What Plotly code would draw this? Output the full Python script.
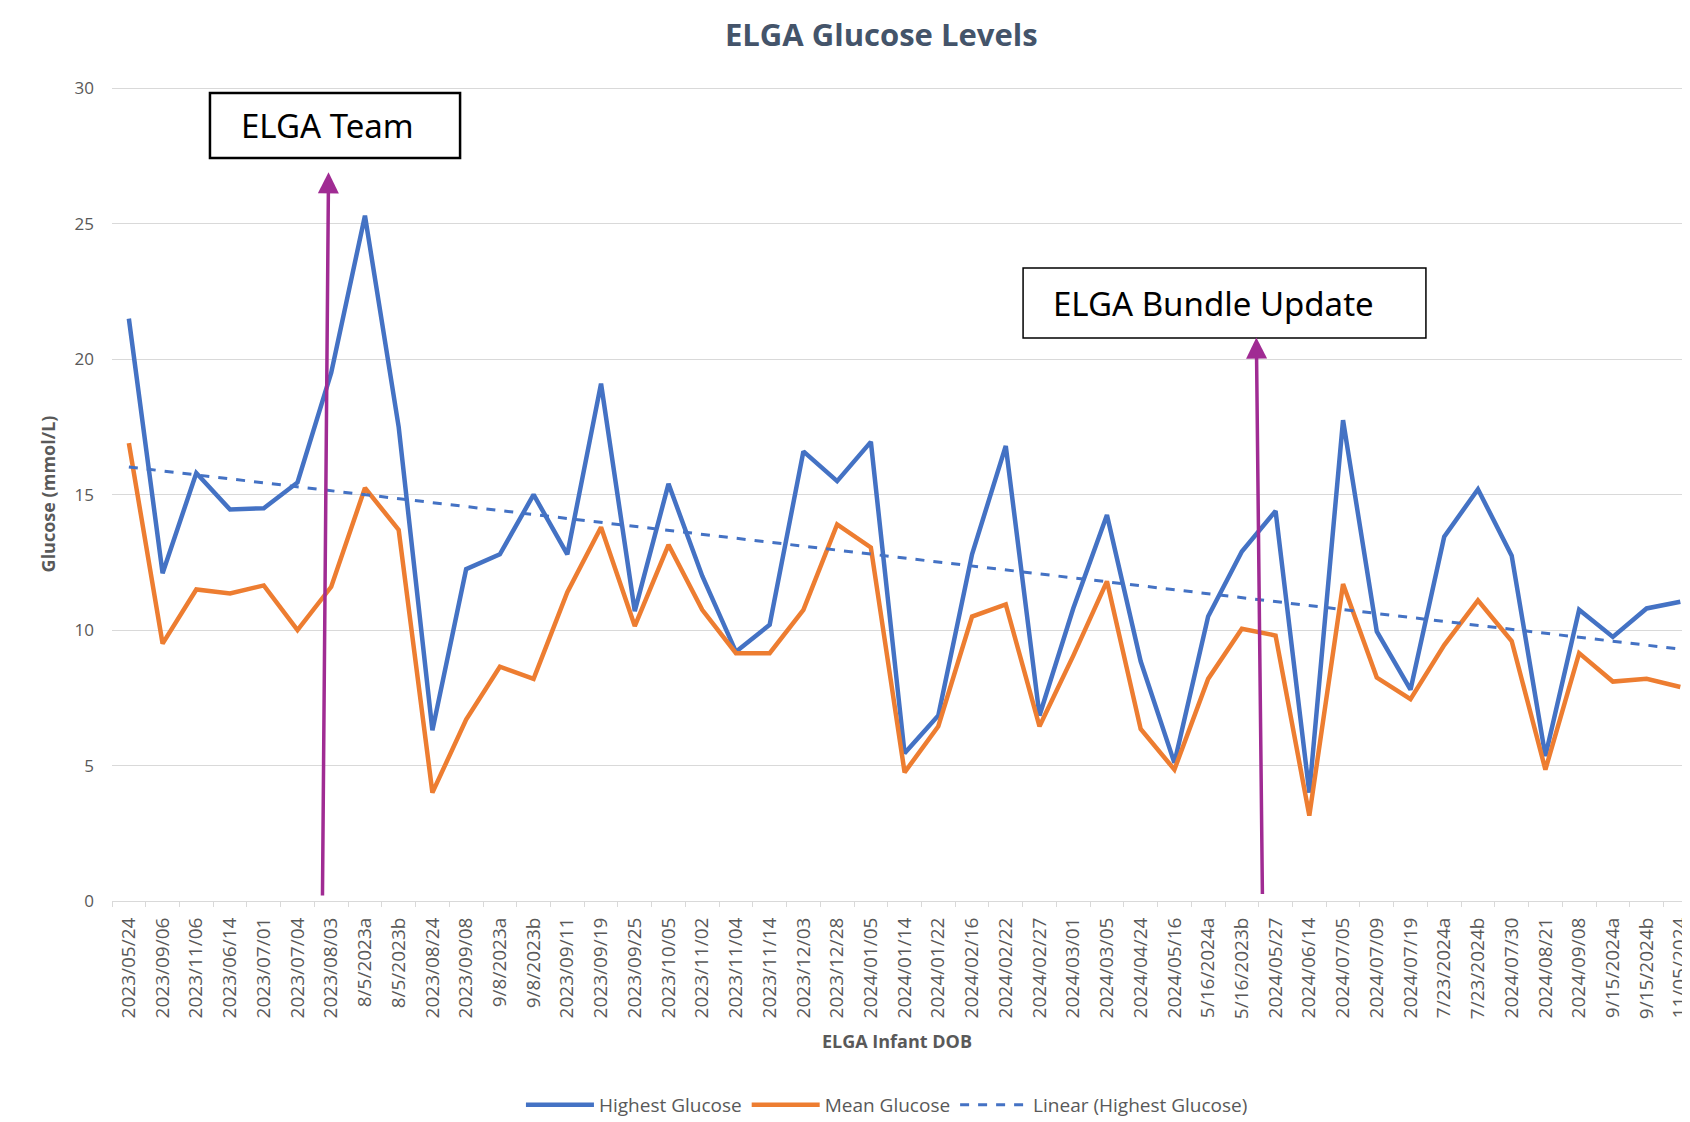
import numpy as np
import plotly.graph_objects as go

# ---------------- data ----------------
dob_labels = [
    "2023/05/24", "2023/09/06", "2023/11/06", "2023/06/14", "2023/07/01", "2023/07/04",
    "2023/08/03", "8/5/2023a", "8/5/2023b", "2023/08/24", "2023/09/08", "9/8/2023a",
    "9/8/2023b", "2023/09/11", "2023/09/19", "2023/09/25", "2023/10/05", "2023/11/02",
    "2023/11/04", "2023/11/14", "2023/12/03", "2023/12/28", "2024/01/05", "2024/01/14",
    "2024/01/22", "2024/02/16", "2024/02/22", "2024/02/27", "2024/03/01", "2024/03/05",
    "2024/04/24", "2024/05/16", "5/16/2024a", "5/16/2023b", "2024/05/27", "2024/06/14",
    "2024/07/05", "2024/07/09", "2024/07/19", "7/23/2024a", "7/23/2024b", "2024/07/30",
    "2024/08/21", "2024/09/08", "9/15/2024a", "9/15/2024b", "11/05/2024",
]

highest_glucose = [
    21.5, 12.1, 15.8, 14.45, 14.5, 15.45, 19.5, 25.3, 17.5, 6.3, 12.25, 12.8,
    15.0, 12.8, 19.1, 10.7, 15.4, 12.0, 9.2, 10.2, 16.6, 15.5, 16.95, 5.45,
    6.85, 12.8, 16.8, 6.85, 10.8, 14.25, 8.85, 5.1, 10.5, 12.9, 14.4, 4.0,
    17.75, 9.95, 7.8, 13.45, 15.2, 12.75, 5.35, 10.75, 9.75, 10.8, 11.05,
]

mean_glucose = [
    16.9, 9.5, 11.5, 11.35, 11.65, 10.0, 11.6, 15.25, 13.7, 4.0, 6.7, 8.65,
    8.2, 11.4, 13.8, 10.15, 13.15, 10.75, 9.15, 9.15, 10.75, 13.9, 13.05, 4.75,
    6.45, 10.5, 10.95, 6.45, 9.05, 11.8, 6.35, 4.85, 8.2, 10.05, 9.8, 3.15,
    11.7, 8.25, 7.45, 9.45, 11.1, 9.6, 4.85, 9.15, 8.1, 8.2, 7.9,
]

y_ticks = [0, 5, 10, 15, 20, 25, 30]

# linear trendline of highest glucose (least squares over category index)
idx = np.arange(len(highest_glucose))
slope, intercept = np.polyfit(idx, highest_glucose, 1)
trend = (slope * idx + intercept).tolist()

# ---------------- styles ----------------
BLUE = "#4472C4"
ORANGE = "#ED7D31"
PURPLE = "#A02B93"
GRID = "#D9D9D9"
TXT = "#595959"
FONT = "Open Sans"
W, H = 1674, 1114

fig = go.Figure()
fig.add_trace(go.Scatter(
    x=dob_labels, y=highest_glucose, mode="lines", name="Highest Glucose",
    line=dict(color=BLUE, width=4.5),
))
fig.add_trace(go.Scatter(
    x=dob_labels, y=mean_glucose, mode="lines", name="Mean Glucose",
    line=dict(color=ORANGE, width=4.5),
))
fig.add_trace(go.Scatter(
    x=dob_labels, y=trend, mode="lines", name="Linear (Highest Glucose)",
    line=dict(color=BLUE, width=3, dash="dash"),
))

fig.update_layout(
    width=W, height=H, autosize=False,
    margin=dict(l=104, r=0, t=79, b=H - 79 - 814, autoexpand=False),
    paper_bgcolor="white", plot_bgcolor="white",
    font=dict(family=FONT, color=TXT, size=14),
    title=dict(
        text="<b>ELGA Glucose Levels</b>", x=0.490, xref="paper", xanchor="center",
        y=1 - 27.5 / H, yref="container", yanchor="middle",
        font=dict(family=FONT, size=31, color="#44546A"),
    ),
    showlegend=True,
    legend=dict(
        orientation="h", x=0.4936, xanchor="center", y=-0.2506, yanchor="middle",
        font=dict(family=FONT, size=19, color=TXT),
        itemwidth=68,
        traceorder="normal",
    ),
    xaxis=dict(
        type="category", range=[-0.5, 46.05], tickangle=-90,
        showgrid=False, showline=True, linecolor=GRID, linewidth=1,
        ticks="outside", tickson="boundaries", ticklen=5, tickcolor=GRID,
        ticklabelstandoff=8,
        tickfont=dict(family=FONT, size=19, color=TXT),
        title=dict(text="<b>ELGA Infant DOB</b>", font=dict(family=FONT, size=18, color=TXT),
                   standoff=17),
        automargin=False,
    ),
    yaxis=dict(
        range=[0, 30.05], tickvals=y_ticks, showgrid=True, gridcolor=GRID, gridwidth=1,
        zeroline=False, showline=False, ticks="", ticklabelstandoff=17,
        tickfont=dict(family=FONT, size=17, color=TXT),
        title=dict(text="<b>Glucose (mmol/L)</b>", font=dict(family=FONT, size=18, color=TXT),
                   standoff=14),
        automargin=False,
    ),
)

# annotation boxes
fig.add_shape(type="rect", xref="paper", yref="paper",
              x0=0.0624, x1=0.2217, y0=0.9128, y1=0.9926,
              line=dict(color="black", width=2.5), fillcolor="white", layer="above")
fig.add_shape(type="rect", xref="paper", yref="paper",
              x0=0.5803, x1=0.8369, y0=0.6916, y1=0.7776,
              line=dict(color="black", width=1.5), fillcolor="white", layer="above")
fig.add_annotation(text="ELGA Team", xref="paper", yref="paper", x=0.0809, y=0.9527,
                   xanchor="left", yanchor="middle", showarrow=False,
                   font=dict(family="Noto Sans", size=33, color="black"))
fig.add_annotation(text="ELGA Bundle Update", xref="paper", yref="paper", x=0.5981, y=0.7346,
                   xanchor="left", yanchor="middle", showarrow=False,
                   font=dict(family="Noto Sans", size=33, color="black"))

# purple arrows
fig.add_annotation(x=5.92, y=26.9, ax=5.74, ay=0.15, xref="x", yref="y", axref="x", ayref="y",
                   text="", showarrow=True, arrowhead=2, arrowsize=1.2, arrowwidth=3.5,
                   arrowcolor=PURPLE)
fig.add_annotation(x=33.43, y=20.8, ax=33.61, ay=0.2, xref="x", yref="y", axref="x", ayref="y",
                   text="", showarrow=True, arrowhead=2, arrowsize=1.2, arrowwidth=3.5,
                   arrowcolor=PURPLE)

fig.write_html("out.html")
